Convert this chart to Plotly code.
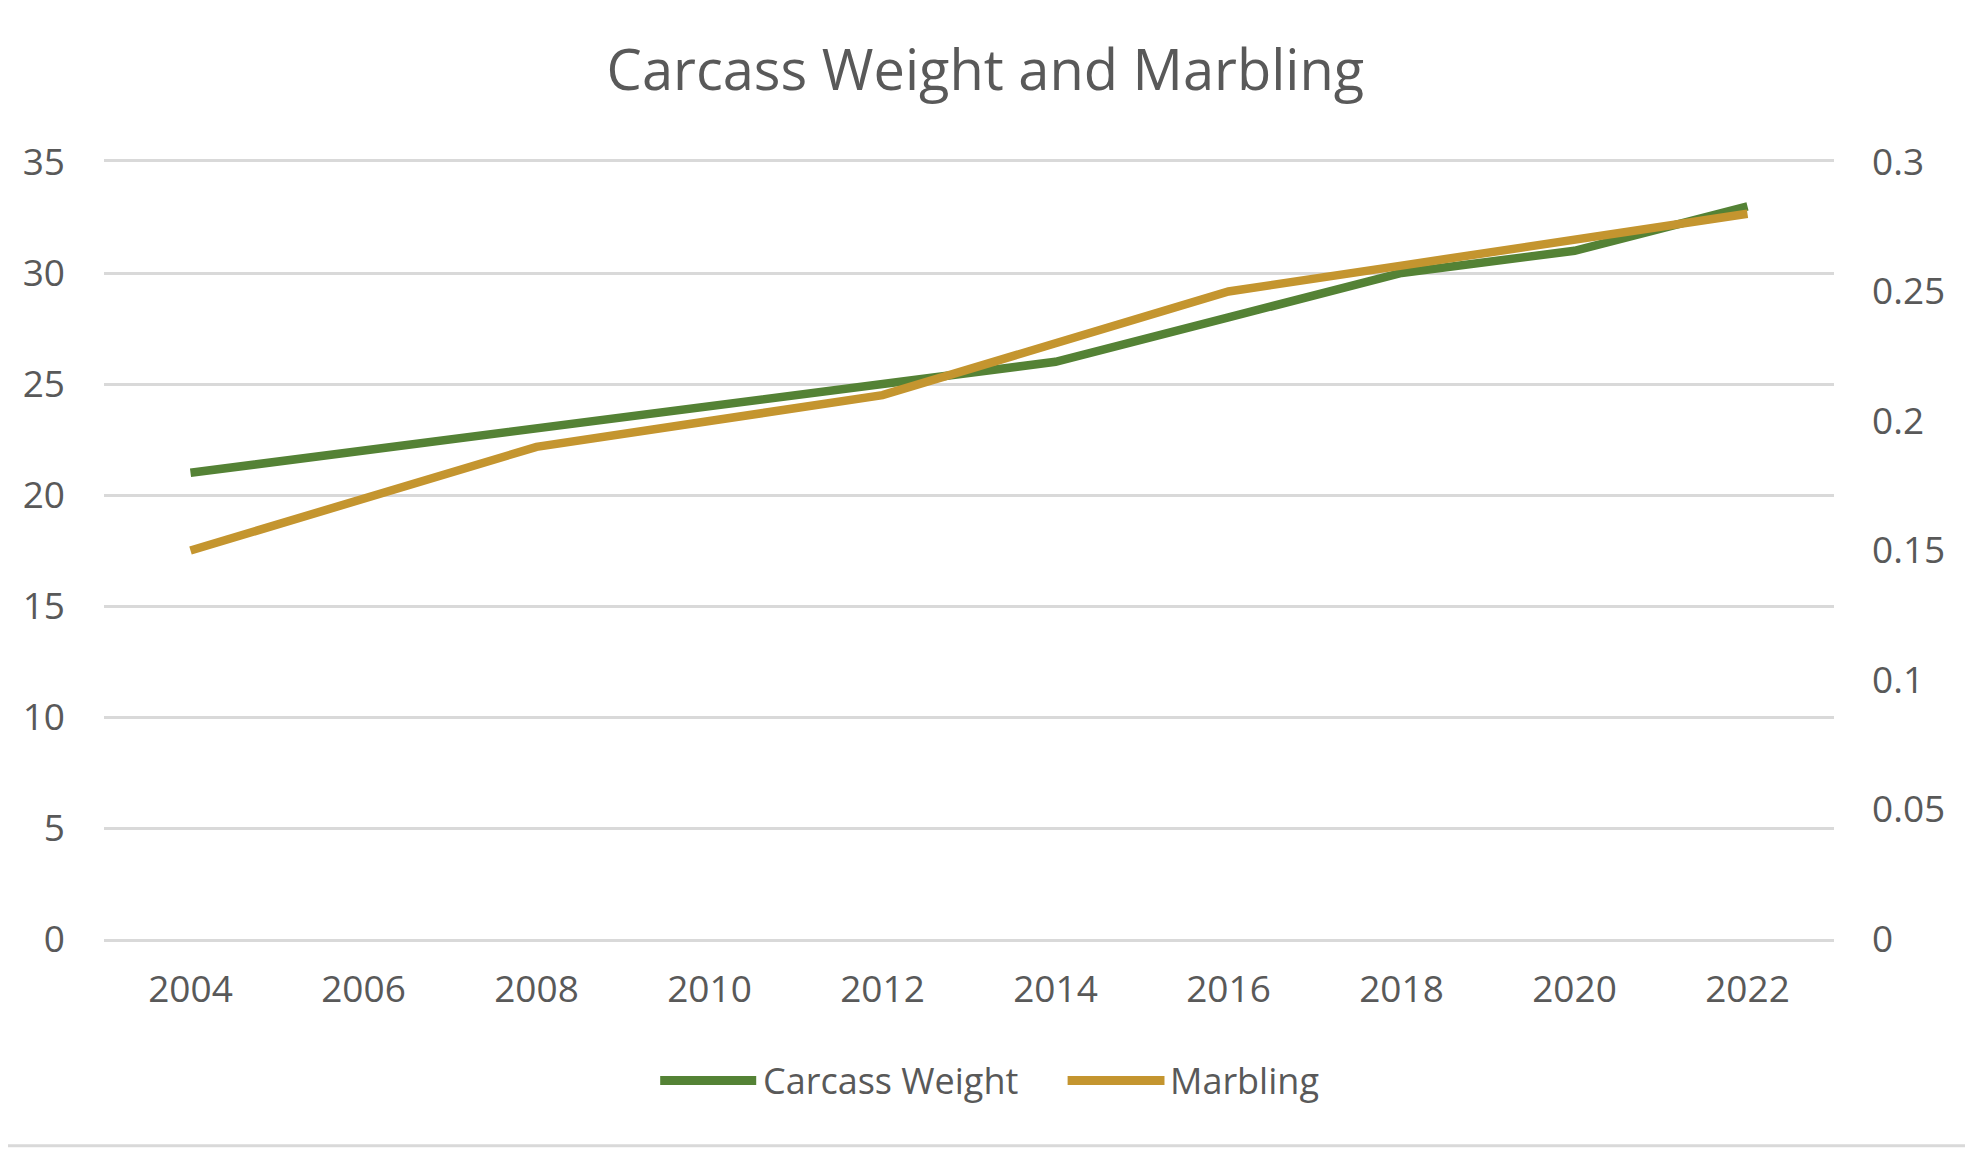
import plotly.graph_objects as go

years = ["2004", "2006", "2008", "2010", "2012", "2014", "2016", "2018", "2020", "2022"]
carcass_weight = [21, 22, 23, 24, 25, 26, 28, 30, 31, 33]
marbling = [0.15, 0.17, 0.19, 0.20, 0.21, 0.23, 0.25, 0.26, 0.27, 0.28]

left_ticks = [0, 5, 10, 15, 20, 25, 30, 35]
right_ticks = [0, 0.05, 0.1, 0.15, 0.2, 0.25, 0.3]

series_names = ["Carcass Weight", "Marbling"]

GREEN = "#548235"
GOLD = "#C4952F"
TEXT = "#595959"
GRID = "#D9D9D9"
FONT = "Open Sans"

fig = go.Figure()
fig.add_trace(go.Scatter(x=years, y=carcass_weight, name=series_names[0], mode="lines",
                         line=dict(color=GREEN, width=8.5), yaxis="y", showlegend=False))
fig.add_trace(go.Scatter(x=years, y=marbling, name=series_names[1], mode="lines",
                         line=dict(color=GOLD, width=8.5), yaxis="y2", showlegend=False))

fig.update_layout(
    width=1973, height=1149,
    margin=dict(l=96, r=147, t=154, b=218),
    paper_bgcolor="white", plot_bgcolor="white",
    font=dict(family=FONT, size=36, color=TEXT),
    title=dict(text="Carcass Weight and Marbling", x=0.4954, xanchor="center",
               y=1 - 62 / 1149, yanchor="middle", yref="container",
               font=dict(family=FONT, size=56, color=TEXT)),
    xaxis=dict(type="category", range=[-0.5, 9.5], showgrid=False,
               showline=True, mirror=True, linecolor=GRID, linewidth=2.5,
               zeroline=False, ticks="", ticklabelstandoff=16,
               tickfont=dict(size=37, color=TEXT)),
    yaxis=dict(range=[0, 35], tickvals=left_ticks, showgrid=True, gridcolor=GRID,
               gridwidth=2.5, zeroline=False, showline=False, ticks="",
               ticklabelstandoff=38, tickfont=dict(size=37, color=TEXT)),
    yaxis2=dict(range=[0, 0.3], tickvals=right_ticks, overlaying="y", side="right",
                showgrid=False, zeroline=False, showline=False, ticks="",
                ticklabelstandoff=37, tickfont=dict(size=37, color=TEXT)),
    showlegend=False,
)

# legend (drawn manually so the key lines match the original length)
legend_y = -0.182
legend_items = [(series_names[0], GREEN, 0.3215, 0.3770, 0.3798),
                (series_names[1], GOLD, 0.5570, 0.6130, 0.6152)]
for name, color, x0, x1, tx in legend_items:
    fig.add_shape(type="line", xref="paper", yref="paper", x0=x0, x1=x1,
                  y0=legend_y, y1=legend_y, line=dict(color=color, width=9))
    fig.add_annotation(text=name, xref="paper", yref="paper", x=tx, y=legend_y,
                       xanchor="left", yanchor="middle", showarrow=False,
                       font=dict(family=FONT, size=36, color=TEXT))

fig.add_shape(type="line", xref="paper", yref="paper", x0=-0.06, x1=1.09,
              y0=-0.266, y1=-0.266, line=dict(color=GRID, width=3))

fig.write_html("out.html")
